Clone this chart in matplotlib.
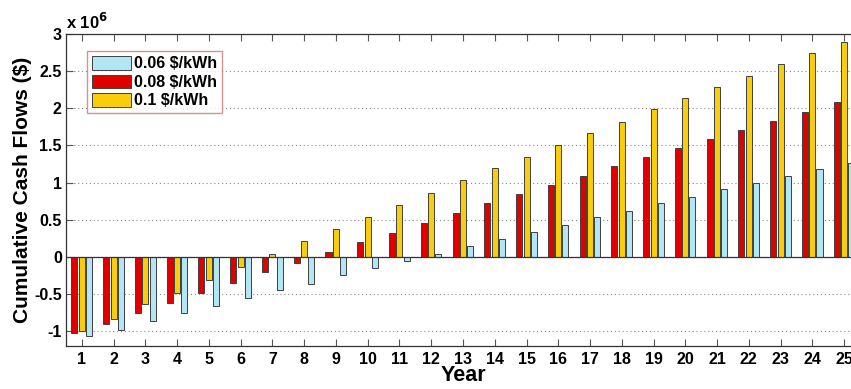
import numpy as np
import matplotlib
matplotlib.use("Agg")
import matplotlib.pyplot as plt

# values, in millions of dollars
years = list(range(1, 26))
cash_006 = [-1.07, -0.98, -0.87, -0.76, -0.66, -0.55, -0.45, -0.36, -0.25, -0.15,
            -0.06, 0.045, 0.14, 0.24, 0.34, 0.43, 0.53, 0.62, 0.72, 0.81,
            0.91, 1.00, 1.09, 1.18, 1.27]
cash_008 = [-1.03, -0.90, -0.76, -0.62, -0.48, -0.35, -0.21, -0.077, 0.063, 0.20,
            0.32, 0.46, 0.59, 0.72, 0.84, 0.97, 1.09, 1.22, 1.34, 1.47,
            1.59, 1.71, 1.83, 1.95, 2.08]
cash_010 = [-1.00, -0.83, -0.64, -0.48, -0.31, -0.14, 0.036, 0.21, 0.37, 0.54,
            0.70, 0.86, 1.03, 1.19, 1.34, 1.51, 1.67, 1.82, 1.99, 2.14,
            2.28, 2.43, 2.59, 2.74, 2.89]
labels = ['0.06 \\$/kWh', '0.08 \\$/kWh', '0.1 \\$/kWh']

plt.rcParams['font.family'] = 'Liberation Sans'
plt.rcParams['font.weight'] = 'bold'

fig = plt.figure(figsize=(8.51, 3.89), dpi=100)
ax = fig.add_axes([66 / 851, 1 - 346 / 389, 794 / 851, 312 / 389])

x = np.array(years)
w = 0.19
ec = '#404040'
b_red = ax.bar(x - 0.235, cash_008, w, color='#e00000', edgecolor=ec, linewidth=0.7, zorder=3)
b_yel = ax.bar(x, cash_010, w, color='#f7cd0c', edgecolor=ec, linewidth=0.7, zorder=3)
b_blu = ax.bar(x + 0.225, cash_006, w, color='#b2e6f4', edgecolor=ec, linewidth=0.7, zorder=3)
ax.axhline(0, color='#333333', linewidth=0.9, zorder=4)

ax.set_xlim(0.5, 25.5)
ax.set_ylim(-1.2, 3)
ax.set_xticks(years)
ax.set_yticks([-1, -0.5, 0, 0.5, 1, 1.5, 2, 2.5, 3])
ax.set_yticklabels(['-1', '-0.5', '0', '0.5', '1', '1.5', '2', '2.5', '3'])
ax.tick_params(axis='both', direction='in', length=5, width=0.8, labelsize=11.5,
               top=True, right=True, colors='#555555', labelcolor='black')
ax.tick_params(axis='x', pad=4)
ax.tick_params(axis='y', pad=3)
ax.grid(axis='y', linestyle=(0, (1, 2.5)), color='#888888', linewidth=0.8, zorder=0)
for s in ax.spines.values():
    s.set_color('#333333')
    s.set_linewidth(0.9)

ax.set_xlabel('Year', fontsize=15.5, fontweight='bold', labelpad=-1)
ax.set_ylabel('Cumulative Cash Flows (\\$)', fontsize=15, fontweight='bold')
ax.yaxis.set_label_coords(-0.043, 0.5)
ax.text(0.0, 1.005, r'x 10$^{\mathbf{6}}$', transform=ax.transAxes,
        fontsize=12, fontweight='bold', ha='left', va='bottom')

leg = ax.legend([b_blu, b_red, b_yel], labels, loc='upper left',
                bbox_to_anchor=(0.027, 0.945), borderaxespad=0, fancybox=False,
                handlelength=2.4, handleheight=0.95, labelspacing=0.2,
                handletextpad=0.2, borderpad=0.3,
                prop={'weight': 'bold', 'size': 11.5})
leg.get_frame().set_edgecolor('#c87878')
leg.get_frame().set_linewidth(1.0)

fig.savefig('out.png', dpi=100)
